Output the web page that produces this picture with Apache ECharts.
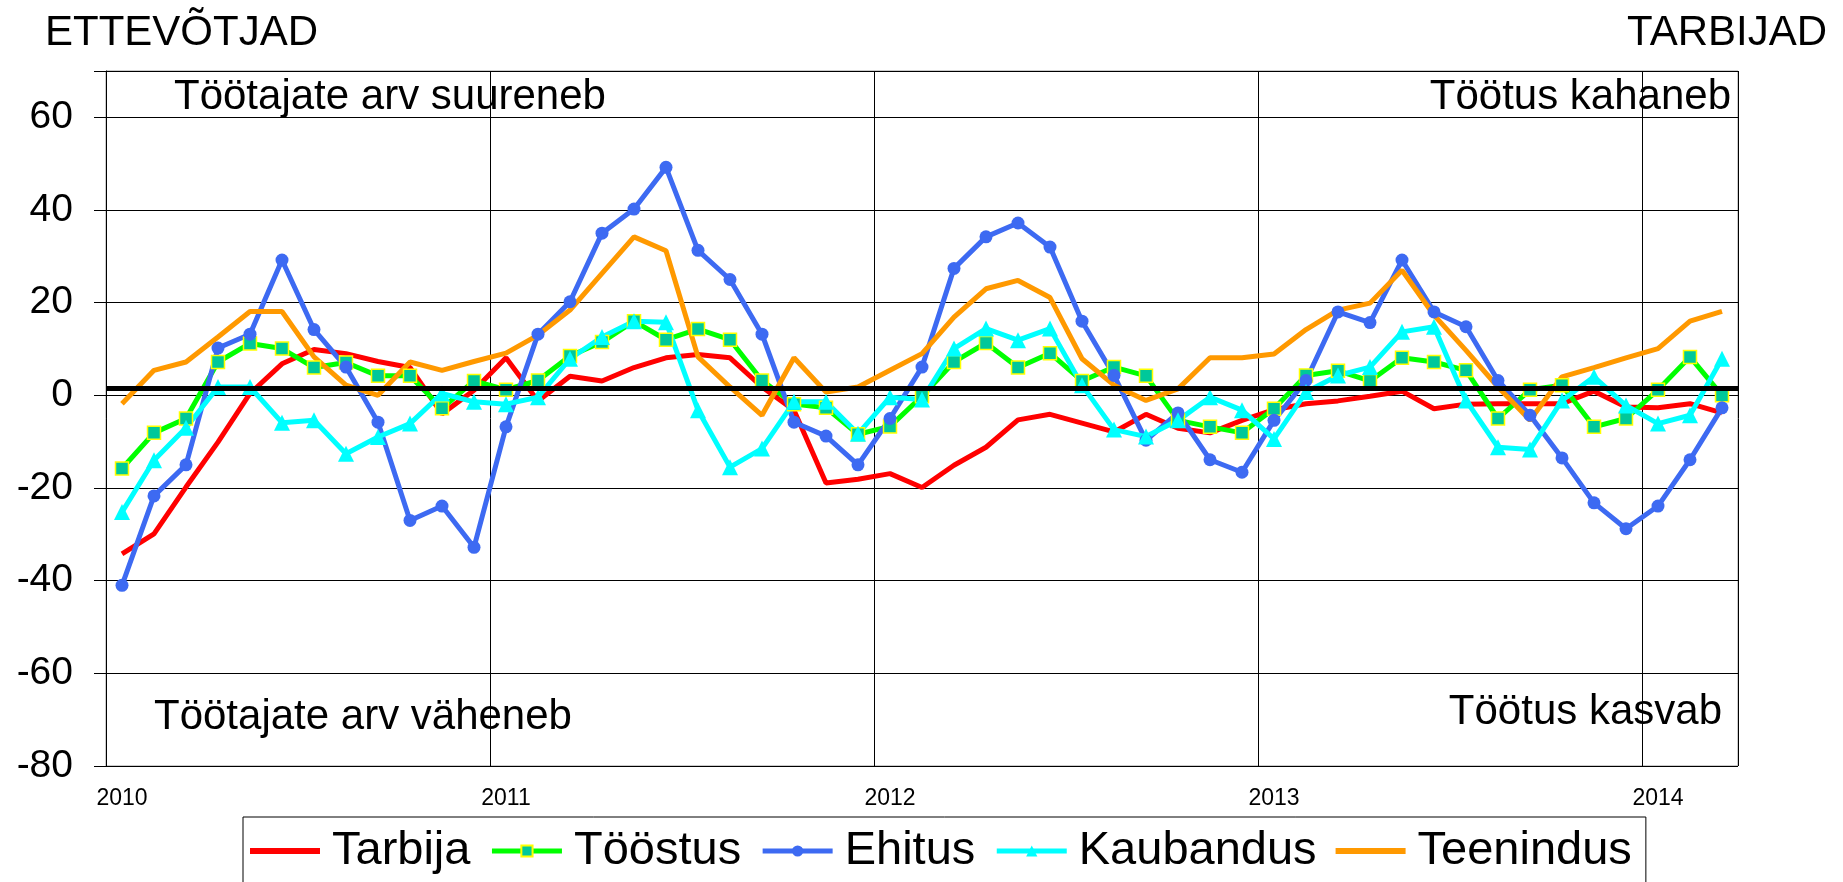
<!DOCTYPE html>
<html>
<head>
<meta charset="utf-8">
<title>Ettevõtjad ja tarbijad</title>
<script src="https://cdn.jsdelivr.net/npm/echarts@6/dist/echarts.min.js"></script>
<style>
html, body { margin: 0; padding: 0; background: #fff; }
#chart { width: 1843px; height: 882px; }
</style>
</head>
<body>
<div id="chart"></div>
<script>
// kuud 2010-01 ... 2014-03
var categories = [
    '2010-01','2010-02','2010-03','2010-04','2010-05','2010-06','2010-07','2010-08','2010-09','2010-10','2010-11','2010-12',
    '2011-01','2011-02','2011-03','2011-04','2011-05','2011-06','2011-07','2011-08','2011-09','2011-10','2011-11','2011-12',
    '2012-01','2012-02','2012-03','2012-04','2012-05','2012-06','2012-07','2012-08','2012-09','2012-10','2012-11','2012-12',
    '2013-01','2013-02','2013-03','2013-04','2013-05','2013-06','2013-07','2013-08','2013-09','2013-10','2013-11','2013-12',
    '2014-01','2014-02','2014-03'
];

var tarbija = [
    -34.2, -29.9, -19.8, -10.1, 0.4, 6.8, 9.9, 9.0, 7.3, 6.0, -4.0, 1.1,
    8.1, -1.2, 4.1, 3.1, 6.0, 8.1, 8.8, 8.1, 1.8, -3.2, -18.9, -18.1,
    -16.9, -19.9, -15.1, -11.2, -5.3, -4.1, -6.0, -7.9, -4.1, -7.1, -8.1, -5.4,
    -3.1, -1.8, -1.2, -0.2, 0.9, -2.9, -1.9, -1.8, -1.8, -1.8, 0.9, -2.5,
    -2.7, -1.8, -3.8
];
var toostus = [
    -15.8, -8.1, -5.0, 7.2, 11.2, 10.1, 6.0, 7.1, 4.2, 4.2, -2.8, 3.1,
    1.2, 3.2, 8.5, 11.5, 16.0, 12.0, 14.3, 12.0, 3.2, -1.9, -2.7, -8.4,
    -6.7, -0.2, 7.2, 11.3, 6.0, 9.1, 3.1, 6.1, 4.2, -5.4, -6.8, -8.1,
    -2.9, 4.3, 5.3, 3.1, 8.1, 7.2, 5.4, -5.0, 1.2, 2.2, -6.8, -5.0,
    1.2, 8.3, 0.0
];
var ehitus = [
    -41.0, -21.7, -15.0, 10.2, 13.2, 29.2, 14.2, 6.1, -5.8, -27.0, -23.9, -32.8,
    -6.8, 13.2, 20.2, 35.0, 40.2, 49.2, 31.3, 25.0, 13.2, -5.8, -8.8, -15.0,
    -5.0, 6.1, 27.4, 34.2, 37.2, 32.0, 16.0, 4.3, -9.7, -3.8, -13.9, -16.6,
    -5.4, 3.2, 18.0, 15.7, 29.2, 18.0, 14.8, 3.2, -4.3, -13.5, -23.2, -28.8,
    -23.9, -13.9, -2.7
];
var kaubandus = [
    -25.2, -14.0, -7.0, 1.8, 1.8, -5.9, -5.4, -12.6, -9.0, -6.1, 0.4, -1.4,
    -1.9, -0.4, 7.9, 12.6, 16.0, 15.8, -3.2, -15.5, -11.5, -1.4, -1.4, -8.3,
    -0.4, -0.9, 10.1, 14.4, 11.9, 14.4, 2.2, -7.4, -8.9, -5.4, -0.4, -3.2,
    -9.4, 0.7, 4.3, 6.1, 13.7, 14.8, -1.1, -11.2, -11.7, -1.1, 4.0, -2.2,
    -6.1, -4.3, 7.9
];
var teenindus = [
    -1.8, 5.4, 7.2, 12.6, 18.1, 18.1, 8.3, 2.2, 0.0, 7.2, 5.4, 7.3,
    9.1, 13.0, 18.4, 26.3, 34.2, 31.2, 8.3, 1.8, -4.3, 8.1, 0.7, 1.8,
    5.4, 9.0, 16.9, 23.0, 24.8, 21.1, 7.9, 2.2, -1.1, 1.4, 8.1, 8.1,
    8.9, 14.2, 18.4, 19.9, 27.0, 17.3, 9.7, 1.8, -5.4, 4.0, 6.0, 8.1,
    10.1, 16.0, 18.1
];
var baseLine = 1.5;

var FONT = '"Liberation Sans", Arial, sans-serif';
var LINE_ICON = 'path://M0,0H70V6H0Z';
var myChart = echarts.init(document.getElementById('chart'));

var option = {
    animation: false,
    backgroundColor: '#fff',
    grid: {
        left: 106, right: 105, top: 71, bottom: 116,
        show: true, borderColor: '#999', borderWidth: 1
    },
    legend: {
        left: 243, top: 817,
        padding: [6, 14, 6, 7],
        borderColor: '#000', borderWidth: 1,
        itemWidth: 70, itemHeight: 14, itemGap: 19,
        lineStyle: { width: 5 },
        textStyle: { fontFamily: FONT, fontSize: 47, color: '#000', padding: [0, 0, 0, 7], lineHeight: 56 },
        data: [
            { name: 'Tarbija', icon: LINE_ICON },
            'Tööstus',
            'Ehitus',
            'Kaubandus',
            { name: 'Teenindus', icon: LINE_ICON }
        ]
    },
    xAxis: {
        type: 'category',
        data: categories,
        boundaryGap: true,
        axisLine: { lineStyle: { color: '#000', width: 1 } },
        axisTick: { show: false },
        axisLabel: {
            interval: 11,
            margin: 21,
            fontFamily: FONT, fontSize: 23, color: '#000',
            formatter: function (v) { return v.slice(0, 4); }
        },
        splitLine: { show: true, interval: 11, lineStyle: { color: '#000', width: 1 } }
    },
    yAxis: {
        type: 'value',
        min: -80, max: 70, interval: 20,
        axisLine: { show: true, lineStyle: { color: '#000', width: 1 } },
        axisTick: { show: true, length: 12, lineStyle: { color: '#000' } },
        axisLabel: {
            margin: 33,
            fontFamily: FONT, fontSize: 39, color: '#000',
            formatter: function (v) { return v === 70 ? '' : v; }
        },
        splitLine: { show: true, lineStyle: { color: '#000', width: 1 } }
    },
    series: [
        {
            name: 'Tarbija', type: 'line', data: tarbija,
            symbol: 'none', showSymbol: false,
            lineStyle: { color: '#FF0000', width: 5 },
            itemStyle: { color: '#FF0000' },
            markLine: {
                silent: true, symbol: 'none',
                label: { show: false },
                lineStyle: { color: '#000', width: 5, type: 'solid' },
                data: [{ yAxis: baseLine }]
            }
        },
        {
            name: 'Tööstus', type: 'line', data: toostus,
            symbol: 'rect', symbolSize: 13,
            lineStyle: { color: '#00FF00', width: 5 },
            itemStyle: { color: '#00C89A', borderColor: '#FFFF00', borderWidth: 1.5 }
        },
        {
            name: 'Ehitus', type: 'line', data: ehitus,
            symbol: 'circle', symbolSize: 13,
            lineStyle: { color: '#3D6AF2', width: 5 },
            itemStyle: { color: '#3D6AF2' }
        },
        {
            name: 'Kaubandus', type: 'line', data: kaubandus,
            symbol: 'triangle', symbolSize: 16,
            lineStyle: { color: '#00FFFF', width: 5 },
            itemStyle: { color: '#00FFFF' }
        },
        {
            name: 'Teenindus', type: 'line', data: teenindus,
            symbol: 'none', showSymbol: false,
            lineStyle: { color: '#FF9900', width: 5 },
            itemStyle: { color: '#FF9900' }
        }
    ],
    graphic: [
        { type: 'text', x: 45, y: 33, style: { text: 'ETTEVÕTJAD', font: '42px ' + FONT, fill: '#000', align: 'left', verticalAlign: 'middle' } },
        { type: 'text', x: 1827, y: 33, style: { text: 'TARBIJAD', font: '42px ' + FONT, fill: '#000', align: 'right', verticalAlign: 'middle' } },
        { type: 'text', x: 174, y: 97, z: 10, style: { text: 'Töötajate arv suureneb', font: '42px ' + FONT, fill: '#000', align: 'left', verticalAlign: 'middle' } },
        { type: 'text', x: 1731, y: 97, z: 10, style: { text: 'Töötus kahaneb', font: '42px ' + FONT, fill: '#000', align: 'right', verticalAlign: 'middle' } },
        { type: 'text', x: 154, y: 717, z: 10, style: { text: 'Töötajate arv väheneb', font: '42px ' + FONT, fill: '#000', align: 'left', verticalAlign: 'middle' } },
        { type: 'text', x: 1722, y: 712, z: 10, style: { text: 'Töötus kasvab', font: '42px ' + FONT, fill: '#000', align: 'right', verticalAlign: 'middle' } }
    ]
};

myChart.setOption(option);
</script>
</body>
</html>
